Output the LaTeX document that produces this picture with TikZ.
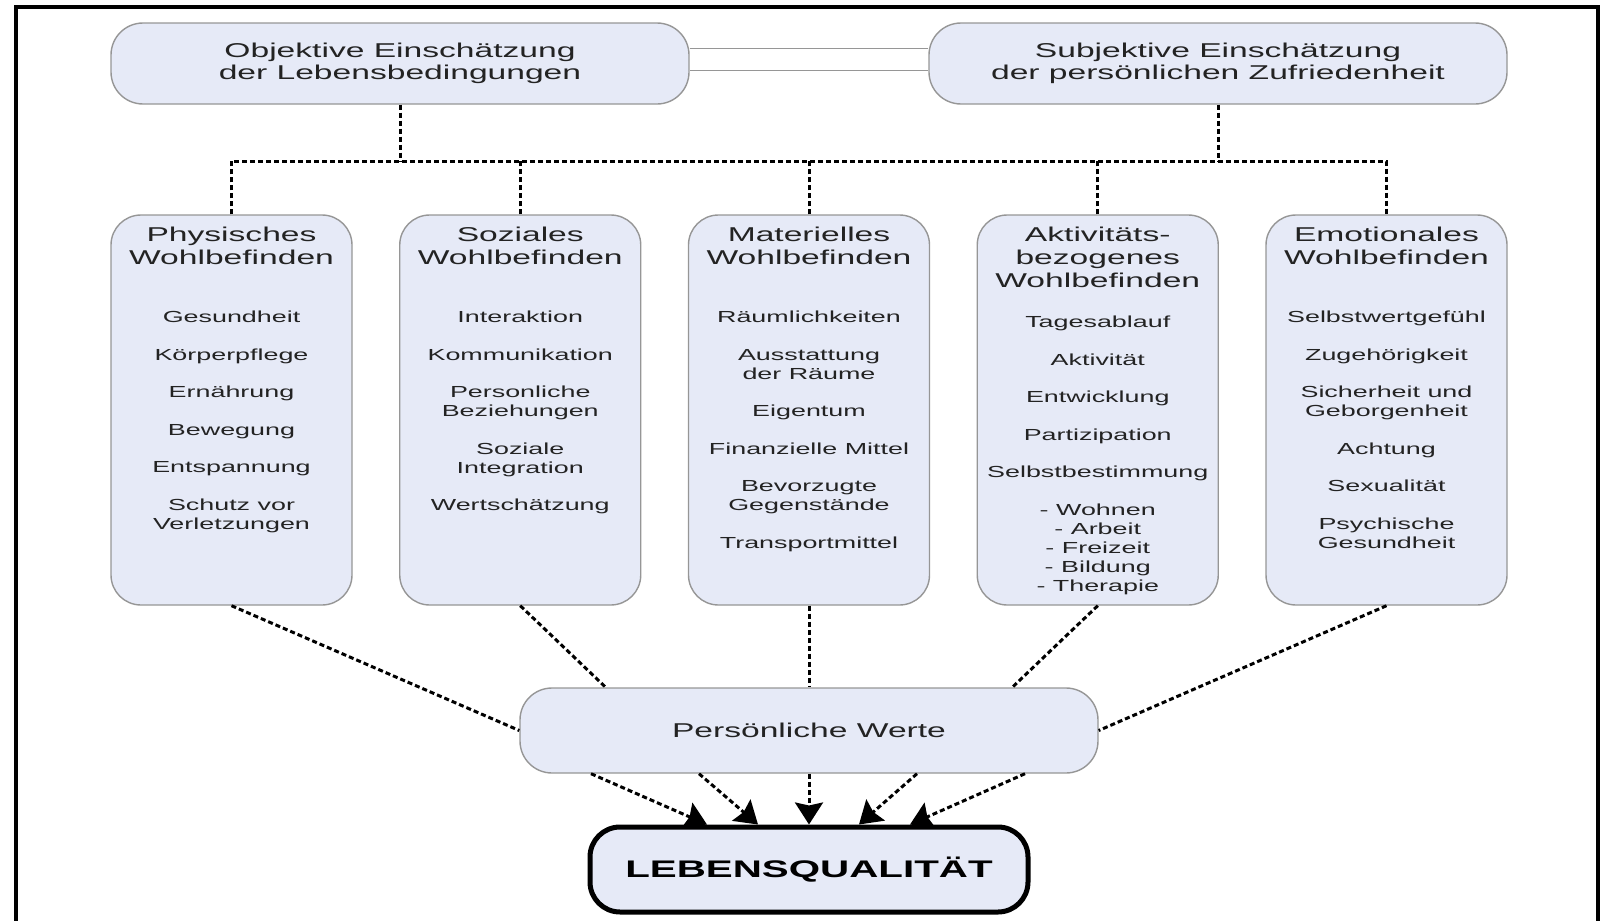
\documentclass[tikz,border=0pt]{standalone}
\usepackage{fontspec}
\setmainfont{Liberation Sans}[FakeStretch=1.68]
\usepackage{xcolor}
\usepackage{tikz}
\usetikzlibrary{shapes.geometric, arrows.meta, positioning}
\definecolor{boxfill}{RGB}{230,234,247}
\definecolor{boxline}{RGB}{150,150,150}
\definecolor{txtgray}{RGB}{35,35,35}
\tikzstyle{topbox} = [rectangle, rounded corners=16pt, minimum width=289pt, minimum height=40.5pt, text centered, align=center, draw=boxline, line width=0.7pt, fill=boxfill, text=txtgray, font=\fontsize{10}{11}\selectfont]
\tikzstyle{colbox} = [rectangle, rounded corners=15pt, minimum width=120.5pt, minimum height=195pt, draw=boxline, line width=0.7pt, fill=boxfill]
\tikzstyle{coltitle} = [align=center, inner sep=0pt, text=txtgray, font=\fontsize{10}{11.5}\selectfont]
\tikzstyle{colitems} = [align=center, inner sep=0pt, text=txtgray, font=\fontsize{8}{9.5}\selectfont]
\tikzstyle{leqbox} = [rectangle, rounded corners=15pt, minimum width=219pt, minimum height=42.5pt, draw=black, line width=2.5pt, fill=boxfill, font=\fontsize{12}{14}\selectfont\bfseries]
\tikzstyle{link} = [line width=1.5pt, dash pattern=on 2.5pt off 1.5pt]
\tikzstyle{arrow} = [link, -{Stealth[length=11pt, width=14pt, inset=1.5pt]}]
\tikzstyle{pair} = [draw=boxline, line width=0.5pt, double=white, double distance=10.5pt]

\begin{document}
\begin{tikzpicture}[x=0.5pt, y=-0.5pt, node distance=144.375pt]
    \useasboundingbox (0,0) rectangle (1607,921);
    \draw [line width=2pt] (16,930) -- (16,7) -- (1598,7) -- (1598,930);

    \node (obj) [topbox] at (400,63.5) {Objektive Einschätzung\\der Lebensbedingungen};
    \node (subj) [topbox] at (1218,63.5) {Subjektive Einschätzung\\der persönlichen Zufriedenheit};
    \coordinate (bus) at (0,161);

    \node (phys) [colbox] at (231.5,410) {};
    \node (soz) [colbox, right of=phys] {};
    \node (mat) [colbox, right of=soz] {};
    \node (akt) [colbox, right of=mat] {};
    \node (emo) [colbox, right of=akt] {};

    \node (physTitle) [coltitle, below=6pt of phys.north] {Physisches\\Wohlbefinden};
    \node (sozTitle) [coltitle, below=6pt of soz.north] {Soziales\\Wohlbefinden};
    \node (matTitle) [coltitle, below=6pt of mat.north] {Materielles\\Wohlbefinden};
    \node (aktTitle) [coltitle, below=6pt of akt.north] {Aktivitäts-\\bezogenes\\Wohlbefinden};
    \node (emoTitle) [coltitle, below=6pt of emo.north] {Emotionales\\Wohlbefinden};

    \node (physItems) [colitems, below=23pt of physTitle] {Gesundheit\\[9.25pt]Körperpflege\\[9.25pt]Ernährung\\[9.25pt]Bewegung\\[9.25pt]Entspannung\\[9.25pt]Schutz vor\\Verletzungen};
    \node (sozItems) [colitems, below=23pt of sozTitle] {Interaktion\\[9.25pt]Kommunikation\\[9.25pt]Personliche\\Beziehungen\\[9.25pt]Soziale\\Integration\\[9.25pt]Wertschätzung};
    \node (matItems) [colitems, below=23pt of matTitle] {Räumlichkeiten\\[9.25pt]Ausstattung\\der Räume\\[9.25pt]Eigentum\\[9.25pt]Finanzielle Mittel\\[9.25pt]Bevorzugte\\Gegenstände\\[9.25pt]Transportmittel};
    \node (aktItems) [colitems, below=14pt of aktTitle] {Tagesablauf\\[9.25pt]Aktivität\\[9.25pt]Entwicklung\\[9.25pt]Partizipation\\[9.25pt]Selbstbestimmung\\[9.25pt]- Wohnen\\- Arbeit\\- Freizeit\\- Bildung\\- Therapie};
    \node (emoItems) [colitems, below=23pt of emoTitle] {Selbstwertgefühl\\[9.25pt]Zugehörigkeit\\[9.25pt]Sicherheit und\\Geborgenheit\\[9.25pt]Achtung\\[9.25pt]Sexualität\\[9.25pt]Psychische\\Gesundheit};

    \node (werte) [topbox, minimum height=42.5pt] at (809,730.5) {Persönliche Werte};
    \node (leq) [leqbox] at (809,869.5) {LEBENSQUALITÄT};

    \draw [pair] ([yshift=2.25pt]obj.east) -- ([yshift=2.25pt]subj.west);

    \draw [link] (obj.south) -- (obj.south |- bus);
    \draw [link] (subj.south) -- (subj.south |- bus);
    \draw [link] (phys.north) -- (phys.north |- bus) -- (emo.north |- bus) -- (emo.north);
    \draw [link] (soz.north) -- (soz.north |- bus);
    \draw [link] (mat.north) -- (mat.north |- bus);
    \draw [link] (akt.north) -- (akt.north |- bus);

    \draw [link] (phys.south) -- (werte.west);
    \draw [link] (soz.south) -- (werte.168);
    \draw [link] (mat.south) -- (werte.north);
    \draw [link] (akt.south) -- (werte.12);
    \draw [link] (emo.south) -- (werte.east);

    \draw [arrow] ([xshift=-109pt]werte.south) -- ([xshift=-51pt]leq.north);
    \draw [arrow] ([xshift=-55pt]werte.south) -- ([xshift=-25.5pt]leq.north);
    \draw [arrow] (werte.south) -- (leq.north);
    \draw [arrow] ([xshift=54pt]werte.south) -- ([xshift=25pt]leq.north);
    \draw [arrow] ([xshift=108pt]werte.south) -- ([xshift=50.5pt]leq.north);
\end{tikzpicture}
\end{document}
